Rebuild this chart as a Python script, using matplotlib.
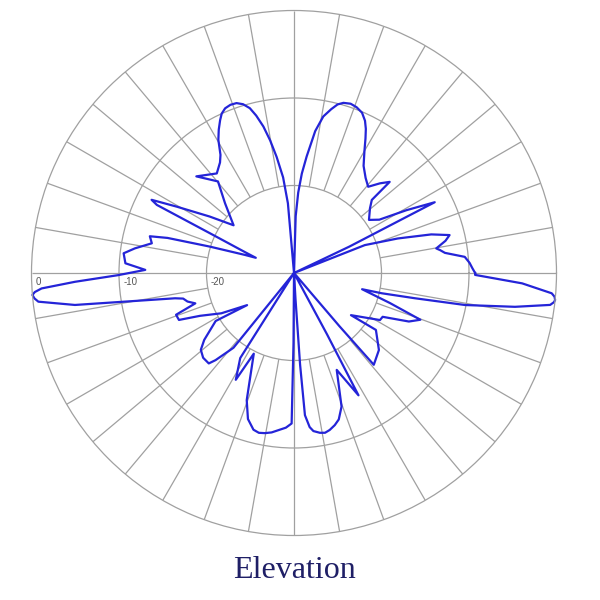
import numpy as np
import matplotlib
matplotlib.use("Agg")
import matplotlib.pyplot as plt

# elevation pattern: angle (deg, ccw from east) and level (dB)
q1_deg = [0, 1.5, 3.3, 5.4, 7.6, 8.9, 9.8, 12, 13.7, 15.7, 18.4, 21.5, 23.5, 25.5, 26.7,
          29.2, 32, 35.3, 40.4, 43.2, 43.6, 46.2, 49.3, 53, 57, 60, 62, 63.5, 65, 67, 69.3,
          71.5, 73.8, 75.5, 77.2, 79.4, 81.5, 83.8, 85.5, 87, 88.3, 90]
q1_db = [-9.3, -9.6, -9.9, -10.4, -12.6, -13.1, -13.5, -12.3, -11.7, -13.7, -17.5, -21.3, -30, -23, -12,
         -15.3, -18.5, -19.5, -18.6, -17.8, -14.9, -15.8, -17.0, -16.4, -15.4, -13.9, -12.6, -11.6, -10.8, -10.1, -9.75,
         -9.6, -9.75, -10.1, -10.8, -11.8, -13.6, -16.6, -18.6, -20.8, -23.5, -30]

q2_deg = [92, 93.5, 95, 96.5, 98.5, 100.2, 101.8, 103.5, 105, 106.8, 108.7, 110.7, 112.7, 114.4,
          115.8, 117.7, 119.6, 121.9, 123.8, 127.8, 135.3, 129.7, 134.7, 141.7, 146.2, 150.5,
          152.8, 153.6, 154.7, 157, 158.3, 159.8, 162.6, 164.5, 165.7, 168.2, 171.2, 173.4,
          176.7, 178.8]
q2_db = [-30, -30, -22, -19, -16.6, -14.6, -12.9, -11.5, -10.5, -9.85, -9.5, -9.45, -9.6, -10.0,
         -10.6, -11.5, -12.5, -14.1, -14.8, -15.6, -14.3, -16.4, -18.8, -21.2, -18.4, -14.6,
         -11.7, -12.5, -19.4, -24, -25.3, -24, -19.9, -15.0, -13.0, -13.4, -11.6, -10.4,
         -10.7, -13.0]

q3_deg = [180.7, 182.3, 183.5, 184.2, 184.8, 185.6, 186.4, 188.3, 189.6, 192, 193, 195, 197.1,
          199.5, 202.2, 204.5, 209, 214.4, 211.5, 216.7, 219.5, 223, 226.7, 228, 231, 233.5, 236,
          237.7, 241.4, 243.5, 249.6, 252.5, 255.5, 257.6, 259.7, 262, 264, 267, 269.1, 269.6, 270.2]
q3_db = [-9.9, -4.95, -1.1, -0.3, 0, -0.2, -0.6, -4.7, -10.4, -16.1, -17, -17.4, -18.2,
         -15.7, -15.8, -18.2, -20.5, -23.5, -19.5, -17.2, -16.2, -15.8, -15.8, -16.6, -19, -30, -30,
         -18.5, -16.1, -19.7, -14.5, -12.5, -11.5, -11.3, -11.4, -11.6, -11.9, -12.3, -12.8, -22, -30]

q4_deg = [271.5, 273.3, 273.8, 274.4, 275.8, 277, 279.2, 281, 282.8, 285, 287, 289.6, 293.8,
          297.8, 298.3, 299, 306.5, 310.5, 311, 317.8, 325.2, 323.5, 331.3, 333.7, 337.1, 339.7,
          342.6, 346.6, 347, 348.2, 349.4, 351.3, 352.9, 353.6, 354.1, 354.8, 355.5, 357.4,
          359.4, 360]
q4_db = [-30, -27, -19.5, -13.7, -12.3, -11.8, -11.5, -11.4, -11.6, -12.0, -12.5, -13.8, -17.9,
         -14.2, -22, -30, -30, -22, -16.1, -16.9, -18.6, -21.9, -18.8, -18.7, -15.75, -14.6,
         -18.5, -22, -19.7, -15.9, -10.1, -4.45, -0.5, -0.1, 0, -0.1, -0.46, -3.9,
         -9.3, -9.3]

ring_levels = [-20, -10]
ring_labels = ["0", "-10", "-20"]
label_levels = [0, -10, -20]
spoke_step = 10

theta = np.deg2rad(q1_deg + q2_deg + q3_deg + q4_deg)
gain = np.array(q1_db + q2_db + q3_db + q4_db)

fig = plt.figure(figsize=(6, 6), dpi=100)
ax = fig.add_axes([0.0525, 0.1075, 0.875, 0.875], projection="polar")
grid_col = "#a0a0a0"

ax.set_ylim(-30, 0)
ax.set_xticks([])
ax.set_yticks(ring_levels)
ax.set_yticklabels([])
ax.yaxis.grid(True, color=grid_col, lw=0.9)
ax.spines["polar"].set_color(grid_col)
ax.spines["polar"].set_linewidth(0.9)

# spokes: short ones from the -20 ring, full ones on the axes
spokes = np.arange(0, 360, spoke_step)
short = [a for a in spokes if a % 90 != 0]
full = [a for a in spokes if a % 90 == 0]
ax.vlines(np.deg2rad(short), -20, 0, colors=grid_col, lw=0.9)
ax.vlines(np.deg2rad(full), -30, 0, colors=grid_col, lw=0.9)

for lab, lev in zip(ring_labels, label_levels):
    ax.annotate(lab, xy=(np.pi, lev), xytext=(3, -3), textcoords="offset points",
                ha="left", va="top", fontsize=7, color="#555555", family="Liberation Sans")

ax.plot(theta, gain, color="#2424d8", lw=1.6, clip_on=False, solid_joinstyle="round")

fig.text(0.49, 0.05, "Elevation", fontsize=23, family="Liberation Serif",
         color="#1f1f66", ha="center", va="center")

fig.savefig("out.png", dpi=100)
